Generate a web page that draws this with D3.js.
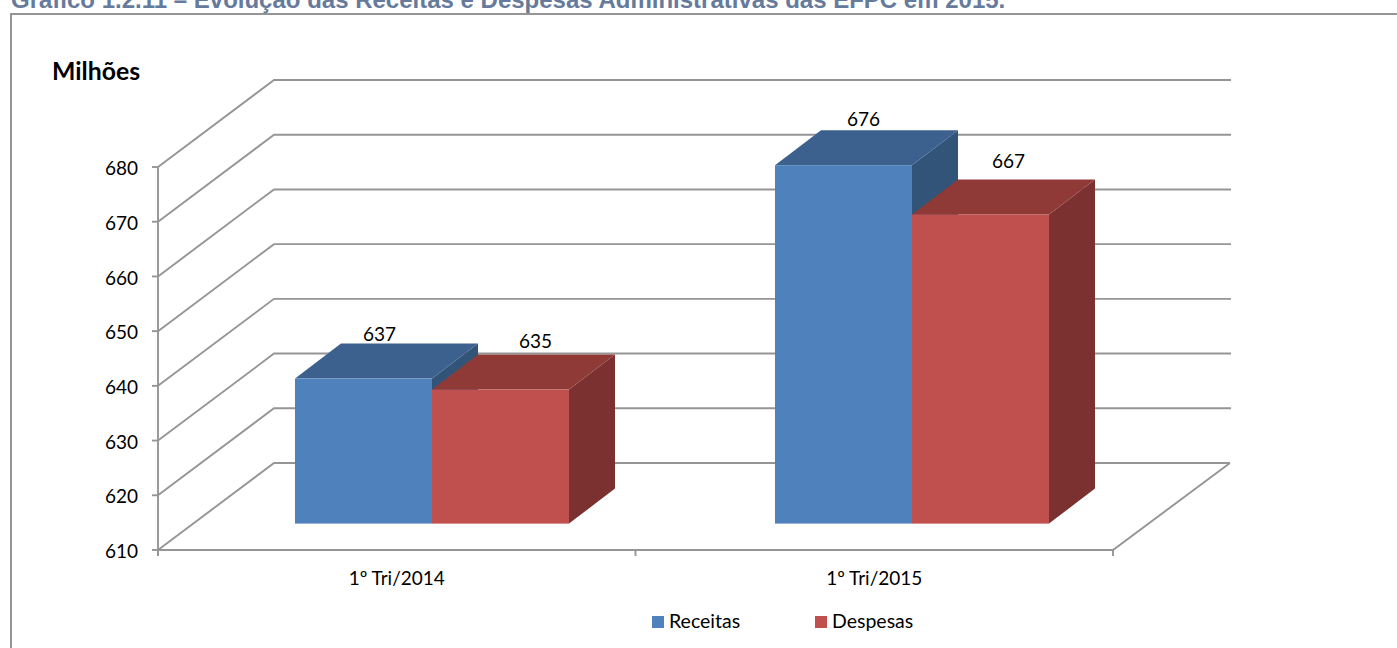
<!DOCTYPE html>
<html><head><meta charset="utf-8">
<script src="https://cdn.jsdelivr.net/npm/d3@7/dist/d3.min.js"></script>
<style>html,body{margin:0;padding:0;background:#fff;overflow:hidden}svg{display:block}</style>
</head><body><svg id="c" width="1397" height="648"></svg>
<script>
const categories = ["1º Tri/2014", "1º Tri/2015"];
const seriesNames = ["Receitas", "Despesas"];
const receitas = [636.5, 675.5];
const despesas = [634.5, 666.5];
const yTicks = [610, 620, 630, 640, 650, 660, 670, 680];
const titleText = "Gráfico 1.2.11 – Evolução das Receitas e Despesas Administrativas das EFPC em 2015.";
const unitText = "Milhões";

const svg = d3.select("#c");
const sans = "Lato, Carlito, sans-serif";
const grid = "#959595";
const wall = {dx: 116, dy: -87};
const barDepth = {dx: 46, dy: -35};
const barFront = {dx: 36, dy: -26.4};
// manual label placement, as in the source chart: [Receitas, Despesas] per category
const labelNudge = [[[16, -3], [35, -7]], [[20, -4], [28, -11]]];

const y = d3.scaleLinear().domain([610, 680]).range([550, 167]);
const xAxisScale = d3.scaleBand().domain(categories).range([158, 1113]);
const xBars = d3.scaleBand().domain(categories).range([192, 1152]);
const xSeries = d3.scaleBand().domain(seriesNames).range([-137, 137]);
const fills = {
  Receitas: {front: "#4f81bd", top: "#3d618e", side: "#325479"},
  Despesas: {front: "#c0504d", top: "#903a38", side: "#7b3130"}
};
const series = [{name: "Receitas", values: receitas}, {name: "Despesas", values: despesas}];

svg.append("text").attr("x", 11).attr("y", 8).attr("font-family", "'Liberation Sans', Arial, sans-serif")
  .attr("font-weight", "bold").attr("font-size", 24).attr("fill", "#667b9c").text(titleText);
svg.append("rect").attr("x", 11).attr("y", 14).attr("width", 1400).attr("height", 660)
  .attr("fill", "#fff").attr("stroke", "#8a8a8a").attr("stroke-width", 1.8);
svg.append("text").attr("x", 52).attr("y", 80).attr("font-family", sans).attr("font-weight", "bold")
  .attr("font-size", 24.8).attr("fill", "#000").text(unitText);

// walls and gridlines
const g = svg.append("g").attr("fill", "none").attr("stroke", grid).attr("stroke-width", 1.9);
const path = d3.line();
yTicks.forEach(t => {
  const a = y(t);
  const pts = t === 610
    ? [[158, a], [158 + wall.dx, a + wall.dy], [1230, a + wall.dy]]
    : [[158, a], [158 + wall.dx, a + wall.dy], [1231, a + wall.dy]];
  g.append("path").attr("d", path(pts));
});
g.append("path").attr("d", path([[158, y(680)], [158, y(610) + 6]]));
g.append("path").attr("d", path([[158, y(610)], [1113, y(610)], [1113 + wall.dx + 1, y(610) + wall.dy]]));
yTicks.forEach(t => g.append("path").attr("d", path([[152, y(t)], [158, y(t)]])));
[158, xAxisScale.step() + 158, 1113].forEach(v => g.append("path").attr("d", path([[v, 550], [v, 556]])));

// y tick labels
svg.append("g").selectAll("text").data(yTicks).join("text")
  .attr("x", 138).attr("y", d => y(d) + 1.5).attr("dy", "0.35em").attr("text-anchor", "end")
  .attr("font-family", sans).attr("font-size", 19).attr("fill", "#000").text(d => d);

// x labels
svg.append("g").selectAll("text").data(categories).join("text")
  .attr("x", d => xAxisScale(d) + xAxisScale.bandwidth() / 2)
  .attr("y", 585).attr("text-anchor", "middle").attr("font-family", sans).attr("font-size", 19)
  .attr("fill", "#000").text(d => d);

// bars (3D boxes)
const base = y(610) + barFront.dy;
const cube = categories.flatMap((c, i) => series.map((s, j) => {
  const x0 = xBars(c) + xBars.bandwidth() / 2 + xSeries(s.name);
  const x1 = x0 + xSeries.bandwidth();
  const top = y(s.values[i]) + barFront.dy;
  return {name: s.name, value: s.values[i], x0, x1, top, nudge: labelNudge[i][j]};
}));
const bars = svg.append("g");
const poly = pts => pts.map(p => p.join(",")).join(" ");
cube.forEach(b => {
  const f = fills[b.name], d = barDepth;
  bars.append("polygon").attr("points", poly([[b.x1, b.top], [b.x1 + d.dx, b.top + d.dy], [b.x1 + d.dx, base + d.dy], [b.x1, base]])).attr("fill", f.side);
  bars.append("polygon").attr("points", poly([[b.x0, b.top], [b.x0 + d.dx, b.top + d.dy], [b.x1 + d.dx, b.top + d.dy], [b.x1, b.top]])).attr("fill", f.top);
  bars.append("rect").attr("x", b.x0).attr("y", b.top).attr("width", b.x1 - b.x0).attr("height", base - b.top).attr("fill", f.front);
});
svg.append("g").selectAll("text").data(cube).join("text")
  .attr("x", b => (b.x0 + b.x1) / 2 + b.nudge[0]).attr("y", b => b.top + barDepth.dy + b.nudge[1])
  .attr("text-anchor", "middle").attr("font-family", sans).attr("font-size", 19).attr("fill", "#000")
  .text(b => Math.round(b.value));

// legend
const legendX = [652, 815];
const lg = svg.append("g").selectAll("g").data(seriesNames).join("g")
  .attr("transform", (d, i) => `translate(${legendX[i]},616)`);
lg.append("rect").attr("width", 12).attr("height", 12).attr("fill", d => fills[d].front);
lg.append("text").attr("x", 17).attr("y", 12).attr("font-family", sans).attr("font-size", 19.5).attr("fill", "#000").text(d => d);
</script></body></html>
